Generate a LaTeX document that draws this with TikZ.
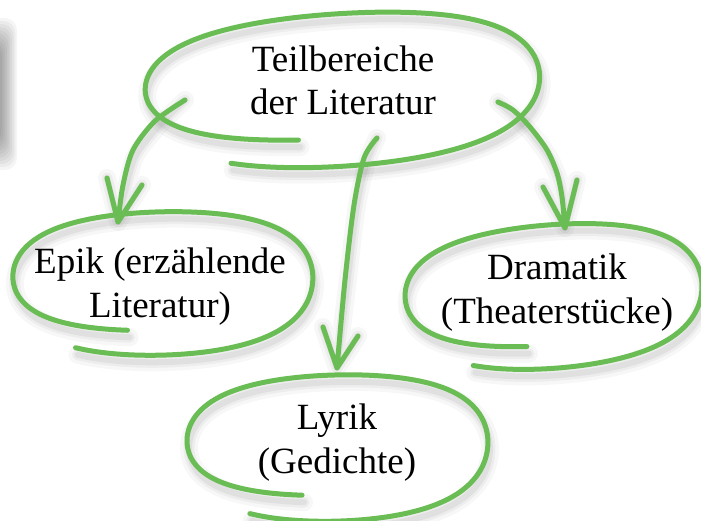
\documentclass[tikz,border=0pt]{standalone}
\usepackage{fontspec}
\setmainfont{Liberation Serif}
\definecolor{lgreen}{RGB}{106,189,84}
\def\sq{-0.025}
% hand-drawn spiral loop: cx, cy, rx, ry, x-growth, y-growth, start angle, end angle, tilt
\newcommand\hloop[9]{plot[smooth,variable=\t,domain=#7:#8,samples=100]
  ({#1+(#3*(1-#5*(#8-\t)/(#8-#7))*(cos(\t)+\sq*cos(3*\t))/(1+\sq))*cos(#9)-(#4*(1-#6*(#8-\t)/(#8-#7))*(sin(\t)-\sq*sin(3*\t))/(1+\sq))*sin(#9)},
   {#2+(#3*(1-#5*(#8-\t)/(#8-#7))*(cos(\t)+\sq*cos(3*\t))/(1+\sq))*sin(#9)+(#4*(1-#6*(#8-\t)/(#8-#7))*(sin(\t)-\sq*sin(3*\t))/(1+\sq))*cos(#9)})}
\begin{document}
\begin{tikzpicture}[x=1pt,y=-1pt,line cap=round,line join=round,
  ink/.style={draw=lgreen,line width=5pt},
  shA/.style={draw=black,opacity=0.03,line width=18pt,shift={(2,7)}},
  shB/.style={draw=black,opacity=0.04,line width=11pt,shift={(2,7)}},
  shC/.style={draw=black,opacity=0.05,line width=6pt,shift={(2,7)}},
  lbl/.style={font=\fontsize{37}{43.5}\selectfont,align=center,inner sep=0pt},
  loopT/.style={insert path={\hloop{340}{83}{203}{85.7}{0.05}{0.345}{102}{481}{-2.5}}},
  loopE/.style={insert path={\hloop{161}{277.3}{154.3}{80}{0.05}{0.326}{102}{481}{0}}},
  loopD/.style={insert path={\hloop{551.7}{290.8}{152.8}{79.4}{0.05}{0.307}{100}{480}{-3}}},
  loopL/.style={insert path={\hloop{335.6}{441.6}{154.8}{81.8}{0.05}{0.333}{102}{481}{0}}},
  arrE/.style={insert path={plot[smooth] coordinates {(sE) (155,121) (133,150) (123,185) (tE)} (lE1) -- (tE) -- (lE2)}},
  arrL/.style={insert path={plot[smooth] coordinates {(sL) (364,158) (354,205) (345,280) (tL)} (lL1) -- (tL) -- (lL2)}},
  arrD/.style={insert path={plot[smooth] coordinates {(sD) (513,110) (530,127) (547,150) (557,173) (562,197) (tD)} (lD1) -- (tD) -- (lD2)}}
]
\fill[white] (0,0) rectangle (701,521);
\useasboundingbox (0,0) rectangle (701,521);
% blurred grey edge at the left
\foreach \k in {0,...,9}
  \fill[black,opacity=0.04,rounded corners=12pt] (-40,{18+3*\k}) rectangle ({17-1.7*\k},{170-3*\k});
% connector end points
\coordinate (sE) at (185,100); \coordinate (tE) at (118,222);
\coordinate (lE1) at (107,178); \coordinate (lE2) at (142,185);
\coordinate (sL) at (377,138); \coordinate (tL) at (337,368);
\coordinate (lL1) at (323,327); \coordinate (lL2) at (358,336);
\coordinate (sD) at (498,102); \coordinate (tD) at (565,228);
\coordinate (lD1) at (543,187); \coordinate (lD2) at (577,180);
% shadows
\foreach \s in {shA,shB,shC}{
  \path[\s,loopT]; \path[\s,loopE]; \path[\s,loopD]; \path[\s,loopL];
  \path[\s,arrE]; \path[\s,arrL]; \path[\s,arrD];
}
% green strokes
\path[ink,loopT]; \path[ink,loopE]; \path[ink,loopD]; \path[ink,loopL];
\path[ink,arrE]; \path[ink,arrL]; \path[ink,arrD];
% texts (anchor=base is the baseline of the last line)
\node[lbl,anchor=base] (T) at (343,115) {Teilbereiche\\der Literatur};
\node[lbl,anchor=base] (E) at (160,317) {Epik (erzählende\\Literatur)};
\node[lbl,anchor=base] (D) at (557,323) {Dramatik\\(Theaterstücke)};
\node[lbl,anchor=base] (L) at (337,473) {Lyrik\\(Gedichte)};
\end{tikzpicture}
\end{document}
